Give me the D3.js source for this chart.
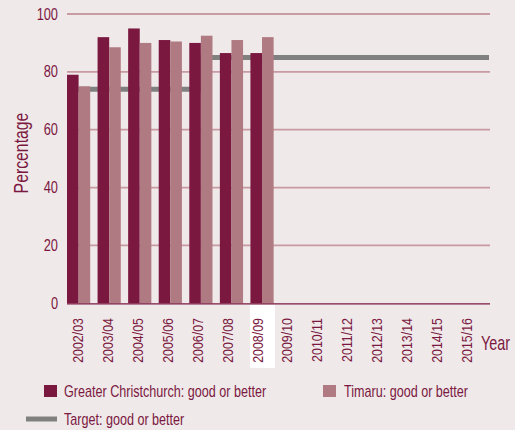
<!DOCTYPE html>
<html>
<head>
  <script src="https://cdn.jsdelivr.net/npm/d3@7"></script>
  <style>
    body { margin: 0; background: #efe9ea; }
    text { font-family: "Liberation Sans", Arial, sans-serif; fill: #7b1840; }
  </style>
</head>
<body>
  <div id="chart"></div>
<script>
  // chart data
  const years = ["2002/03", "2003/04", "2004/05", "2005/06", "2006/07", "2007/08", "2008/09",
                 "2009/10", "2010/11", "2011/12", "2012/13", "2013/14", "2014/15", "2015/16"];
  const christchurch = [79, 92, 95, 91, 90, 86.5, 86.5];
  const timaru = [75, 88.5, 90, 90.5, 92.5, 91, 92];
  const targetYears = ["2002/03", "2006/07", "2015/16"];
  const targetValues = [74, 85, 85];
  const yTicks = [0, 20, 40, 60, 80, 100];

  const W = 515, H = 430;
  const plot = {left: 67, right: 490, top: 14, bottom: 303.3};

  const svg = d3.select("#chart").append("svg")
    .attr("width", W).attr("height", H);

  svg.append("rect").attr("width", W).attr("height", H).attr("fill", "#efe9ea");

  // bars use a slightly wider step than the year labels (as in the original)
  const x = d3.scaleBand().domain(years).range([plot.left, 495]);
  const xLab = d3.scalePoint().domain(years).range([77.5, 466.5]);
  const y = d3.scaleLinear().domain([0, 100]).range([plot.bottom, plot.top]);
  const barW = 11.6;

  // squeeze text to look like a condensed face
  function condense(sel, k) {
    sel.each(function() {
      const len = this.getComputedTextLength();
      d3.select(this).attr("textLength", len * k).attr("lengthAdjust", "spacingAndGlyphs");
    });
  }

  // white highlight behind current year label
  svg.append("rect")
    .attr("x", x("2008/09") - 0.5).attr("y", 305)
    .attr("width", 25).attr("height", 63)
    .attr("fill", "#ffffff");

  // gridlines
  svg.selectAll(".grid")
    .data(yTicks.filter(d => d > 0))
    .enter().append("line")
      .attr("x1", plot.left).attr("x2", plot.right)
      .attr("y1", d => y(d)).attr("y2", d => y(d))
      .attr("stroke", "#c89aa2").attr("stroke-width", 1.8);

  // y tick labels
  svg.selectAll(".ytick")
    .data(yTicks)
    .enter().append("text")
      .attr("x", 58).attr("y", d => y(d) + 5.5)
      .attr("text-anchor", "end")
      .attr("font-size", 16)
      .text(d => d)
      .call(condense, 0.8);

  // target step line (behind bars)
  const tx = (yr, i) => i === 0 ? plot.left : (i === targetYears.length - 1 ? plot.right - 1 : x(yr) + barW);
  const tpts = [];
  targetYears.forEach((yr, i) => {
    if (i > 0) tpts.push([tx(yr, i), y(targetValues[i - 1])]);
    tpts.push([tx(yr, i), y(targetValues[i])]);
  });
  svg.append("path")
    .attr("d", d3.line()(tpts))
    .attr("fill", "none")
    .attr("stroke", "#808080")
    .attr("stroke-width", 5);

  // bars
  svg.selectAll(".cc")
    .data(christchurch)
    .enter().append("rect")
      .attr("x", (d, i) => x(years[i]))
      .attr("y", d => y(d))
      .attr("width", barW)
      .attr("height", d => plot.bottom - y(d))
      .attr("fill", "#7b1840");

  svg.selectAll(".tim")
    .data(timaru)
    .enter().append("rect")
      .attr("x", (d, i) => x(years[i]) + barW)
      .attr("y", d => y(d))
      .attr("width", barW)
      .attr("height", d => plot.bottom - y(d))
      .attr("fill", "#b07a82");

  // baseline
  svg.append("line")
    .attr("x1", plot.left).attr("x2", plot.right)
    .attr("y1", plot.bottom + 0.5).attr("y2", plot.bottom + 0.5)
    .attr("stroke", "#7b1840").attr("stroke-width", 1.2);

  // x labels
  svg.selectAll(".xlab")
    .data(years)
    .enter().append("text")
      .attr("transform", d => "translate(" + (xLab(d) + 5.5) + ",318) rotate(-90)")
      .attr("text-anchor", "end")
      .attr("font-size", 15.5)
      .text(d => d)
      .call(condense, 0.8);

  // axis titles
  svg.append("text")
    .attr("transform", "translate(28,153) rotate(-90)")
    .attr("text-anchor", "middle")
    .attr("font-size", 20)
    .text("Percentage")
    .call(condense, 0.79);

  svg.append("text")
    .attr("transform", "translate(481,350) scale(0.72,1)")
    .attr("font-size", 20)
    .text("Year");

  // legend
  svg.append("rect").attr("x", 44).attr("y", 385).attr("width", 13).attr("height", 12).attr("fill", "#7b1840");
  svg.append("text").attr("x", 64).attr("y", 397).attr("font-size", 17)
    .text("Greater Christchurch: good or better").call(condense, 0.74);
  svg.append("rect").attr("x", 323).attr("y", 385).attr("width", 13).attr("height", 12).attr("fill", "#b07a82");
  svg.append("text").attr("x", 344).attr("y", 397).attr("font-size", 17)
    .text("Timaru: good or better").call(condense, 0.74);
  svg.append("line").attr("x1", 26).attr("x2", 57).attr("y1", 419).attr("y2", 419)
    .attr("stroke", "#808080").attr("stroke-width", 5);
  svg.append("text").attr("x", 64).attr("y", 425).attr("font-size", 17)
    .text("Target: good or better").call(condense, 0.74);
</script>
</body>
</html>
